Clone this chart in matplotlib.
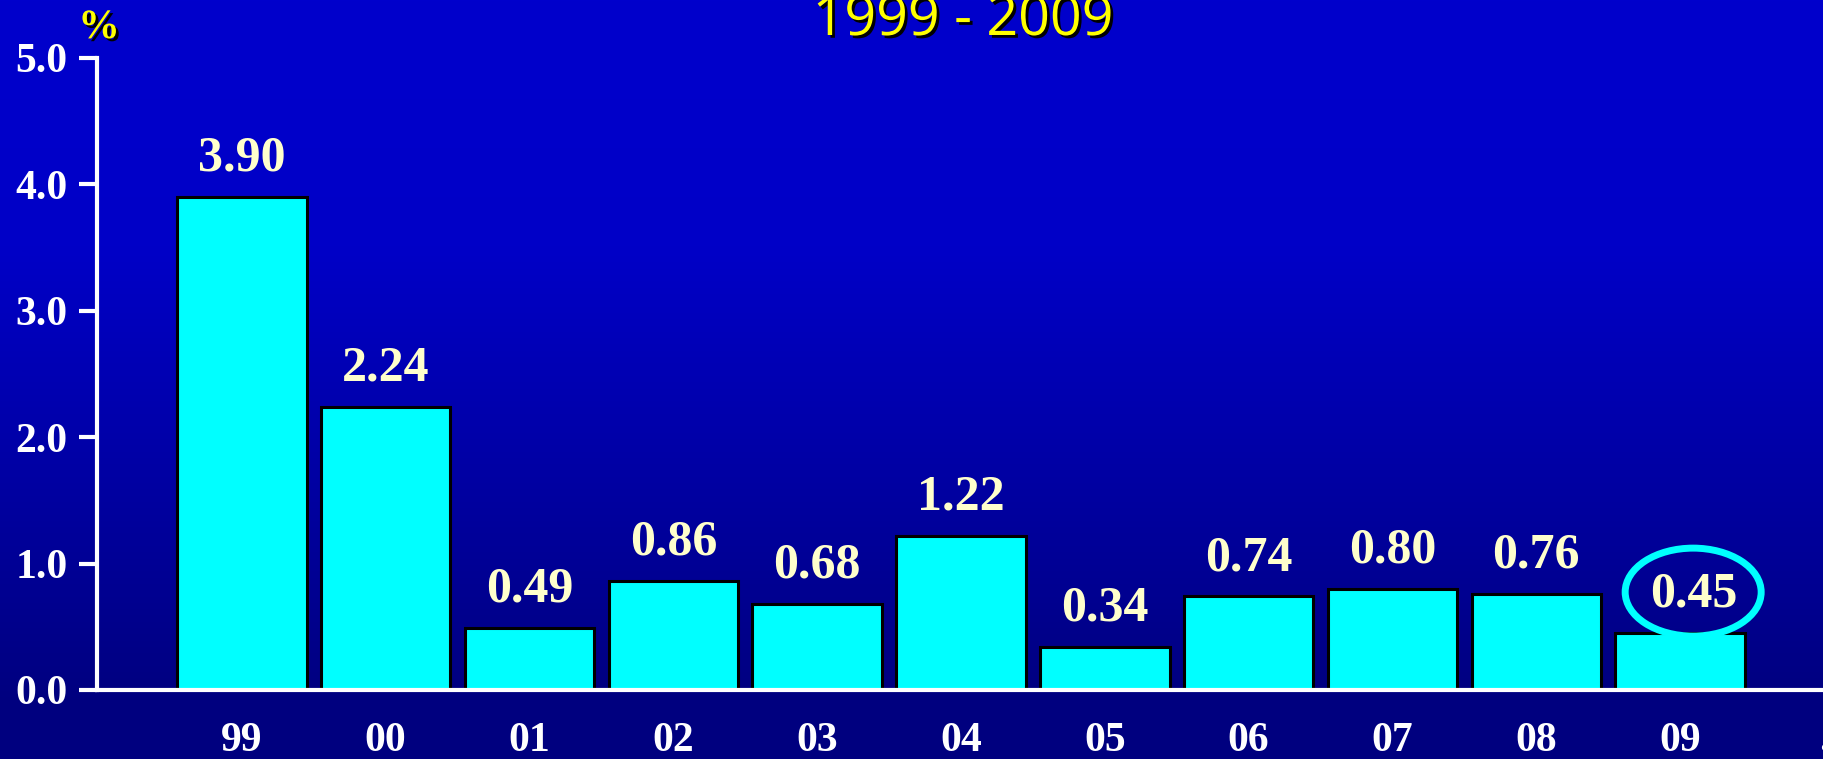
import matplotlib
matplotlib.use("Agg")
import matplotlib.pyplot as plt
import matplotlib.patheffects as pe
from matplotlib.patches import Ellipse
from matplotlib.transforms import IdentityTransform
import numpy as np

# data
years = ["99", "00", "01", "02", "03", "04", "05", "06", "07", "08", "09"]
rates = [3.90, 2.24, 0.49, 0.86, 0.68, 1.22, 0.34, 0.74, 0.80, 0.76, 0.45]
labels = ["3.90", "2.24", "0.49", "0.86", "0.68", "1.22", "0.34", "0.74", "0.80", "0.76", "0.45"]
yticks = [0.0, 1.0, 2.0, 3.0, 4.0, 5.0]
title = "1999 - 2009"

W, H = 1824, 759
fig = plt.figure(figsize=(W / 100, H / 100), dpi=100)

# background gradient
bg = fig.add_axes([0, 0, 1, 1], zorder=0)
rows = np.arange(H)
blue = np.interp(rows, [0, 250, 700, H], [0.80, 0.78, 0.50, 0.50])
grad = np.zeros((H, 1, 3))
grad[:, 0, 2] = blue
bg.imshow(grad, aspect="auto", extent=[0, 1, 0, 1], origin="upper")
bg.set_axis_off()

ax = fig.add_axes([96.6 / W, 1 - 690 / H, 1 - 96.6 / W, (690 - 58) / H], zorder=1)
ax.patch.set_visible(False)

x = np.arange(len(years))
ax.bar(x, rates, width=0.9, color="#00FFFF", edgecolor="black", linewidth=2.2, zorder=2)

last = len(rates) - 1
for i, (xi, v, lab) in enumerate(zip(x, rates, labels)):
    dx = 9.5 if i == last else 0   # highlighted label sits a bit right of its bar
    ax.annotate(lab, (xi, v), xytext=(dx, 19), textcoords="offset points",
                ha="center", va="baseline", color="#FFFFCC", fontsize=36,
                fontweight="bold", family="Liberation Serif", zorder=3)

ax.set_xlim(-1.01, 11.0)
ax.set_ylim(0, 5)
ax.set_xticks(list(x) + [11])
ax.set_xticklabels(years + ["."])
ax.set_yticks(yticks)
ax.set_yticklabels([f"{t:.1f}" for t in yticks])

# highlight last value with an ellipse (pixel units)
cx, cy = ax.transData.transform((x[last], rates[last]))
ell = Ellipse((cx + 13, cy + 41), 136, 88, fill=False, edgecolor="#00FFFF",
              linewidth=5, transform=IdentityTransform(), zorder=4, clip_on=False)
ax.add_artist(ell)

for s in ["top", "right"]:
    ax.spines[s].set_visible(False)
for s in ["left", "bottom"]:
    ax.spines[s].set_color("white")
    ax.spines[s].set_linewidth(3)

ax.tick_params(axis="x", direction="in", length=11, width=2, color="white",
               labelcolor="white", labelsize=30, pad=23)
ax.tick_params(axis="y", direction="out", length=13, width=3, color="white",
               labelcolor="white", labelsize=30, pad=8)
for t in ax.get_xticklabels() + ax.get_yticklabels():
    t.set_fontfamily("Liberation Serif")
    t.set_fontweight("bold")

shadow = [pe.withSimplePatchShadow(offset=(2, -2), shadow_rgbFace="black", alpha=1)]
fig.text(963 / W, 1 - 35 / H, title, ha="center", va="baseline", color="#FFFF00",
         fontsize=40, family="Open Sans", path_effects=shadow)
fig.text(99 / W, 1 - 38 / H, "%", ha="center", va="baseline", color="#FFFF00",
         fontsize=30, fontweight="bold", family="Liberation Serif", path_effects=shadow)

fig.savefig("out.png", dpi=100)
